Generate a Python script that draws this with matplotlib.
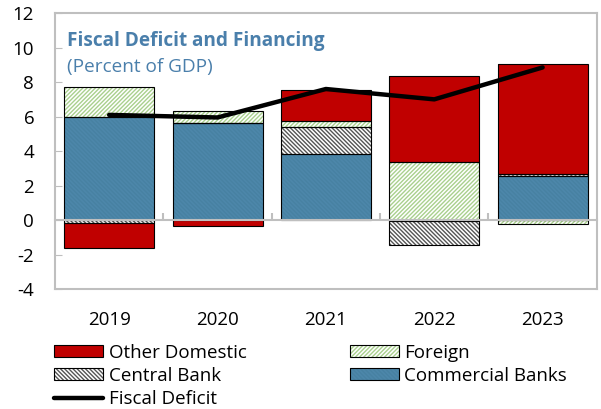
import numpy as np
import matplotlib
matplotlib.use("Agg")
import matplotlib.pyplot as plt
from matplotlib.legend_handler import HandlerTuple

plt.rcParams['font.family'] = ['Open Sans', 'DejaVu Sans']
plt.rcParams['hatch.linewidth'] = 1.0
plt.rcParams['axes.unicode_minus'] = False

# Data (percent of GDP)
years = ['2019', '2020', '2021', '2022', '2023']
commercial_banks = [6.0, 5.65, 3.85, -0.05, 2.55]
central_bank = [-0.15, 0.0, 1.55, -1.4, 0.12]
foreign = [1.7, 0.65, 0.35, 3.35, -0.2]
other_domestic = [-1.45, -0.35, 1.8, 5.0, 6.4]
fiscal_deficit = [6.1, 5.95, 7.6, 7.0, 8.85]

# name, values, face, hatch, hatch colour, outline colour
series = [
    ('Commercial Banks', commercial_banks, '#4d87aa', '\\' * 8, '#4781a2', '#000000'),
    ('Central Bank', central_bank, '#ffffff', '\\' * 8, '#555555', '#000000'),
    ('Foreign', foreign, '#ffffff', '/' * 8, '#a9d08e', '#000000'),
    ('Other Domestic', other_domestic, '#c00000', None, '#c00000', '#000000'),
]

fig = plt.figure(figsize=(6.01, 4.09), dpi=100)
ax = fig.add_axes([0.0915, 0.293, 0.9015, 0.675])

x = np.arange(len(years))
width = 0.83
pos_base = np.zeros(len(years))
neg_base = np.zeros(len(years))
handles = {}
for name, vals, face, hatch, hcol, ecol in series:
    vals = np.array(vals)
    bottom = np.where(vals >= 0, pos_base, neg_base)
    fill = ax.bar(x, vals, width, bottom=bottom, color=face, edgecolor=hcol,
                  hatch=hatch, linewidth=0, zorder=2)
    outline = ax.bar(x, vals, width, bottom=bottom, facecolor='none',
                     edgecolor=ecol, linewidth=0.8, zorder=3)
    pos_base += np.where(vals >= 0, vals, 0)
    neg_base += np.where(vals < 0, vals, 0)
    handles[name] = (fill[0], outline[0])

line, = ax.plot(x, fiscal_deficit, color='black', lw=3.2, zorder=4,
                solid_capstyle='round')

ax.set_xlim(-0.5, len(years) - 0.5)
ax.set_ylim(-4, 12)
ax.set_yticks(np.arange(-4, 13, 2))
ax.set_xticks(x)
ax.set_xticklabels(years)
ax.tick_params(axis='x', length=0, labelsize=13.5, pad=16, colors='black')
ax.tick_params(axis='y', direction='in', length=5, color='#bfbfbf',
               labelsize=13.5, pad=15)
for s in ax.spines.values():
    s.set_color('#bfbfbf')
    s.set_linewidth(1.5)

# zero line with category separators
zero = ax.secondary_xaxis(0.25)
zero.set_xticks(np.arange(0.5, len(years) - 1, 1.0))
zero.tick_params(axis='x', direction='in', length=5, color='#bfbfbf',
                 width=1.5, labelbottom=False)
zero.spines['bottom'].set_color('#bfbfbf')
zero.spines['bottom'].set_linewidth(1.5)
zero.set_zorder(5)

ax.text(0.022, 0.9, 'Fiscal Deficit and Financing', transform=ax.transAxes,
        color='#4a7fab', fontsize=13.7, fontweight='bold', va='center')
ax.text(0.022, 0.805, '(Percent of GDP)', transform=ax.transAxes,
        color='#4a7fab', fontsize=13.7, va='center')

order = ['Other Domestic', 'Central Bank', 'Fiscal Deficit', 'Foreign', 'Commercial Banks']
hl = [handles[n] if n != 'Fiscal Deficit' else line for n in order]
fig.legend(hl, order, handler_map={tuple: HandlerTuple(ndivide=1, pad=0)},
           loc='lower left', bbox_to_anchor=(0.075, -0.02), ncol=2, frameon=False,
           fontsize=13.5, handlelength=2.6, handleheight=0.6, handletextpad=0.3,
           labelspacing=0.27, columnspacing=5.5, borderpad=0.0)

fig.savefig('out.png', dpi=100)
